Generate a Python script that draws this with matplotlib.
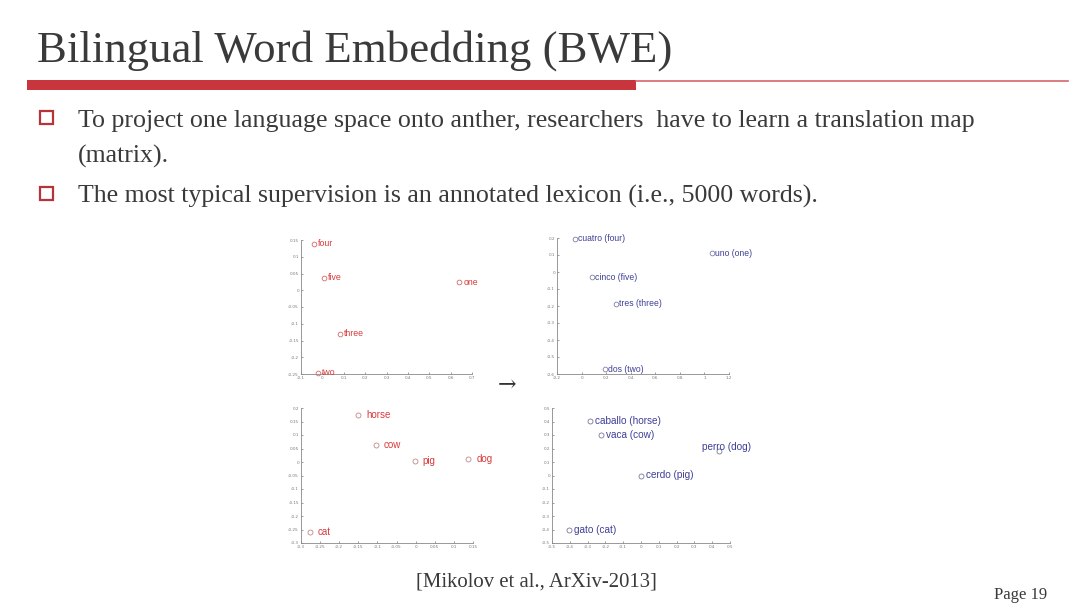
import matplotlib
matplotlib.use("Agg")
import matplotlib.pyplot as plt
from matplotlib.patches import Rectangle
from matplotlib.lines import Line2D
import numpy as np

# ---------------- data ----------------
en_num_labels = ["four", "five", "one", "three", "two"]
en_num_x = [-0.04, 0.009, 0.64, 0.083, -0.02]
en_num_y = [0.139, 0.037, 0.024, -0.13, -0.247]

es_num_labels = ["cuatro (four)", "uno (one)", "cinco (five)", "tres (three)", "dos (two)"]
es_num_x = [-0.056, 1.06, 0.085, 0.28, 0.188]
es_num_y = [0.196, 0.109, -0.031, -0.186, -0.573]

en_ani_labels = ["horse", "cow", "pig", "dog", "cat"]
en_ani_x = [-0.151, -0.105, -0.003, 0.138, -0.277]
en_ani_y = [0.174, 0.063, 0.004, 0.012, -0.258]

es_ani_labels = ["caballo (horse)", "vaca (cow)", "perro (dog)", "cerdo (pig)", "gato (cat)"]
es_ani_x = [-0.285, -0.225, 0.436, 0.0, -0.406]
es_ani_y = [0.407, 0.299, 0.178, 0.0, -0.405]

tl_xticks = [-0.1, 0, 0.1, 0.2, 0.3, 0.4, 0.5, 0.6, 0.7]
tl_yticks = [-0.25, -0.2, -0.15, -0.1, -0.05, 0, 0.05, 0.1, 0.15]
tr_xticks = [-0.2, 0, 0.2, 0.4, 0.6, 0.8, 1.0, 1.2]
tr_yticks = [-0.6, -0.5, -0.4, -0.3, -0.2, -0.1, 0, 0.1, 0.2]
bl_xticks = [-0.3, -0.25, -0.2, -0.15, -0.1, -0.05, 0, 0.05, 0.1, 0.15]
bl_yticks = [-0.3, -0.25, -0.2, -0.15, -0.1, -0.05, 0, 0.05, 0.1, 0.15, 0.2]
br_xticks = [-0.5, -0.4, -0.3, -0.2, -0.1, 0, 0.1, 0.2, 0.3, 0.4, 0.5]
br_yticks = [-0.5, -0.4, -0.3, -0.2, -0.1, 0, 0.1, 0.2, 0.3, 0.4, 0.5]

title = "Bilingual Word Embedding (BWE)"
bullet1a = "To project one language space onto anther, researchers  have to learn a translation map"
bullet1b = "(matrix)."
bullet2 = "The most typical supervision is an annotated lexicon (i.e., 5000 words)."
citation = "[Mikolov et al., ArXiv-2013]"
page = "Page 19"

# ---------------- layout ----------------
W, H = 1080, 608
fig = plt.figure(figsize=(W / 100, H / 100), dpi=100)
fig.patch.set_facecolor("white")
renderer = fig.canvas.get_renderer()

SERIF = ["Liberation Serif", "DejaVu Serif"]
SANS = ["Liberation Sans", "DejaVu Sans"]
TXT = "#3a3a3a"
RED = "#c9353d"


def fx(px):
    return px / W


def fy(py):
    return 1 - py / H


def fit_text(x, y, s, width_px, size0, **kw):
    t = fig.text(fx(x), fy(y), s, fontsize=size0, **kw)
    w = t.get_window_extent(renderer).width
    t.set_fontsize(size0 * width_px / w)
    return t


# title
fit_text(37, 62, title, 635, 30, family=SERIF, color=TXT, va="baseline", ha="left")

# red rule
fig.patches.append(Rectangle((fx(27), fy(90)), fx(636) - fx(27), fy(80) - fy(90),
                             transform=fig.transFigure, facecolor=RED, edgecolor="none"))
fig.lines.append(Line2D([fx(636), fx(1068)], [fy(81), fy(81)], transform=fig.transFigure,
                        color="#d7656b", linewidth=1.2))

# bullets
for yb in (111, 187):
    fig.patches.append(Rectangle((fx(40), fy(yb + 13)), fx(13), fy(yb) - fy(yb + 13),
                                 transform=fig.transFigure, facecolor="none",
                                 edgecolor="#b8323a", linewidth=1.6))
fit_text(78, 127, bullet1a, 899, 16, family=SERIF, color=TXT, va="baseline", ha="left")
t = fig.text(fx(78), fy(163), bullet1b, family=SERIF, color=TXT, va="baseline", ha="left")
t2 = fit_text(78, 203, bullet2, 742, 16, family=SERIF, color=TXT, va="baseline", ha="left")
t.set_fontsize(t2.get_fontsize())

fit_text(416, 587, citation, 243, 14, family=SERIF, color=TXT, va="baseline", ha="left")
fit_text(994, 599, page, 53, 11, family=SERIF, color=TXT, va="baseline", ha="left")

# arrow between panels
fig.text(fx(507), fy(386), "\u2192", family=["DejaVu Serif"], fontsize=16, color="#333333",
         ha="center", va="center")


def fmt(v):
    v = round(v, 4)
    if v == 0:
        return "0"
    s = f"{v:g}"
    return s


def panel(box, labels, xs, ys, xticks, yticks, txtcolor, mcolor, fsize, gap, msize,
          special=None):
    l, t_, r, b = box
    ax = fig.add_axes([fx(l), fy(b), fx(r) - fx(l), fy(t_) - fy(b)])
    ax.set_facecolor("none")
    ax.plot(xs, ys, linestyle="none", marker="o", markersize=msize, markerfacecolor="none",
            markeredgecolor=mcolor, markeredgewidth=0.6, clip_on=False)
    for lab, x, y in zip(labels, xs, ys):
        dx, dy = gap, 0
        if special and lab in special:
            dx, dy = special[lab]
        ax.annotate(lab, (x, y), xytext=(dx, dy), textcoords="offset pixels",
                    family=SANS, fontsize=fsize, color=txtcolor, ha="left", va="center",
                    annotation_clip=False)
    ax.set_xlim(xticks[0], xticks[-1])
    ax.set_ylim(yticks[0], yticks[-1])
    ax.set_xticks(xticks)
    ax.set_yticks(yticks)
    ax.set_xticklabels([fmt(v) for v in xticks])
    ax.set_yticklabels([fmt(v) for v in yticks])
    ax.tick_params(direction="in", length=1.5, width=0.5, labelsize=3, colors="#777777",
                   pad=1.5)
    for s in ("top", "right"):
        ax.spines[s].set_visible(False)
    for s in ("left", "bottom"):
        ax.spines[s].set_color("#888888")
        ax.spines[s].set_linewidth(0.6)
    return ax


panel((301, 240, 472, 374), en_num_labels, en_num_x, en_num_y, tl_xticks, tl_yticks,
      "#d8393b", "#d86868", 6.3, 4, 3.4)
panel((557, 238, 729, 374), es_num_labels, es_num_x, es_num_y, tr_xticks, tr_yticks,
      "#3e3f96", "#8080a8", 6.2, 3, 3.4)
panel((301, 408, 473, 543), en_ani_labels, en_ani_x, en_ani_y, bl_xticks, bl_yticks,
      "#d8393b", "#c08a8a", 7.0, 8, 3.6)
panel((552, 408, 730, 543), es_ani_labels, es_ani_x, es_ani_y, br_xticks, br_yticks,
      "#3e3f96", "#7a7a98", 7.2, 5, 3.6, special={"perro (dog)": (-17, 4)})

fig.savefig("out.png", dpi=100, facecolor="white")
